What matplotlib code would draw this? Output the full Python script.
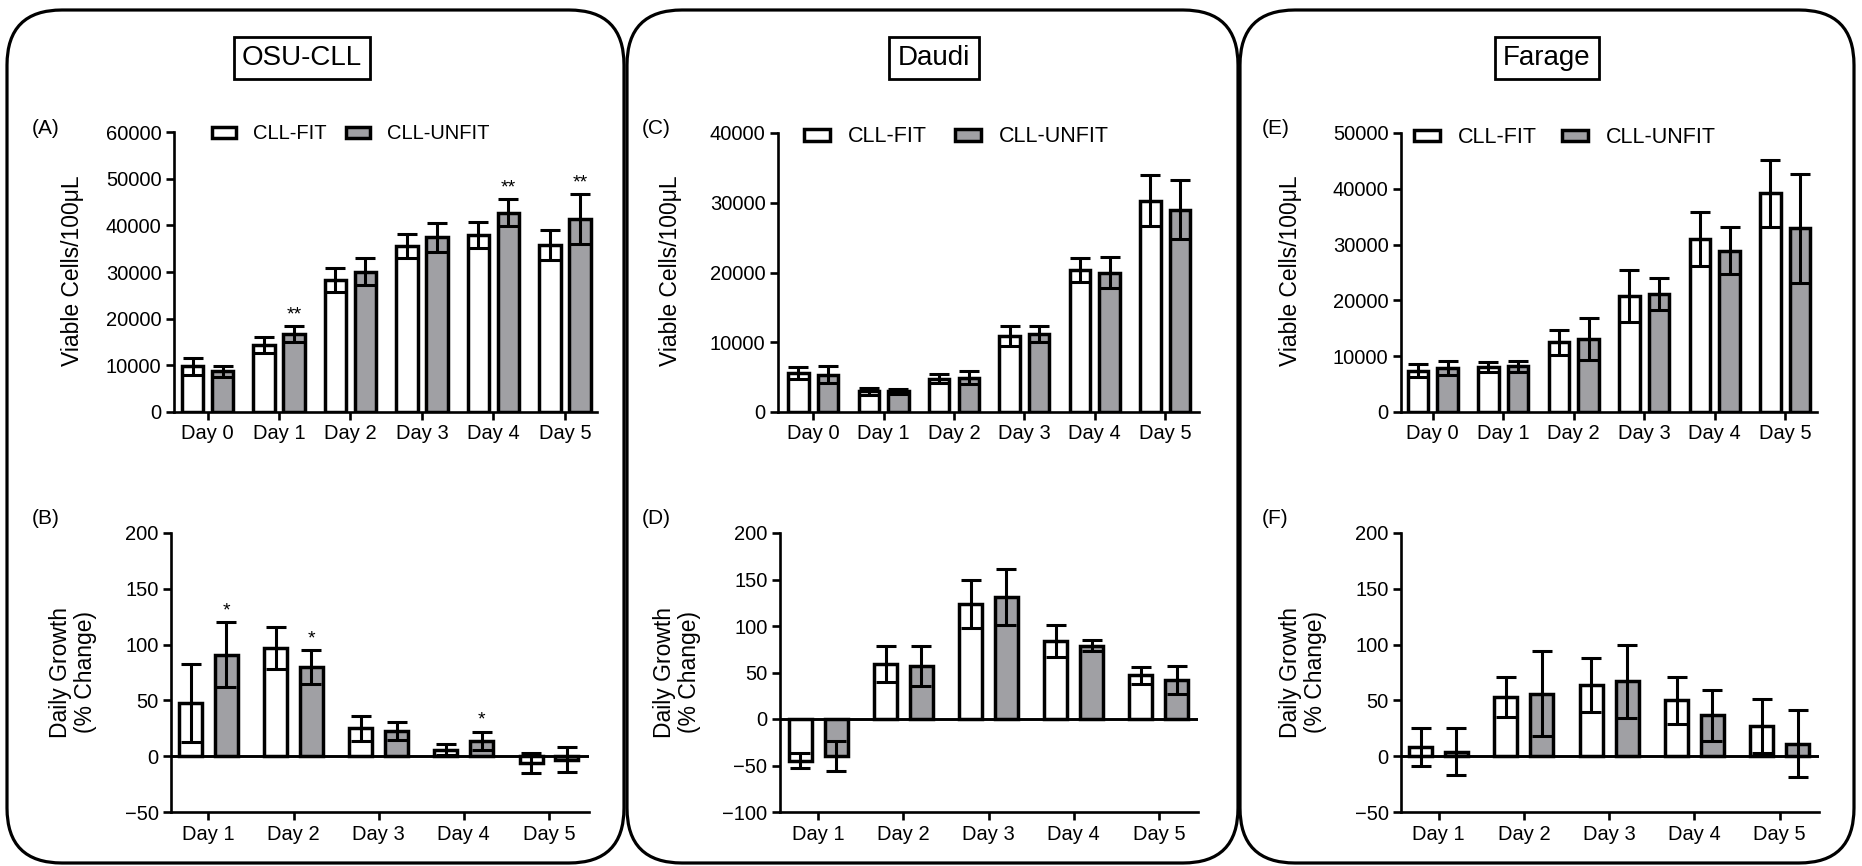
import numpy as np
import matplotlib.pyplot as plt
from matplotlib.patches import FancyBboxPatch

plt.rcParams['font.family'] = ['Liberation Sans', 'DejaVu Sans']

days_top = ['Day 0', 'Day 1', 'Day 2', 'Day 3', 'Day 4', 'Day 5']
days_bot = ['Day 1', 'Day 2', 'Day 3', 'Day 4', 'Day 5']
series = ['CLL-FIT', 'CLL-UNFIT']

# (A) OSU-CLL viable cells
osu_fit = [9800, 14300, 28300, 35600, 38000, 35800]
osu_fit_err = [1800, 1700, 2500, 2500, 2800, 3200]
osu_unfit = [8700, 16700, 30100, 37400, 42700, 41400]
osu_unfit_err = [1100, 1700, 2800, 3200, 2900, 5300]
osu_sig = ['', '**', '', '', '**', '**']

# (B) OSU-CLL daily growth
osu_g_fit = [48, 97, 25, 6, -6]
osu_g_fit_err = [35, 19, 11, 5, 9]
osu_g_unfit = [91, 80, 22.5, 14, -3]
osu_g_unfit_err = [29, 15, 8, 8, 11]
osu_g_sig = ['*', '*', '', '*', '']

# (C) Daudi viable cells
daudi_fit = [5650, 3000, 4800, 10900, 20400, 30300]
daudi_fit_err = [850, 500, 600, 1400, 1700, 3700]
daudi_unfit = [5370, 3000, 4900, 11200, 20000, 29000]
daudi_unfit_err = [1250, 350, 950, 1200, 2200, 4200]

# (D) Daudi daily growth
daudi_g_fit = [-45, 59, 124, 84, 47]
daudi_g_fit_err = [8, 19, 26, 17, 9]
daudi_g_unfit = [-40, 57, 131, 79, 42]
daudi_g_unfit_err = [16, 22, 30, 6, 15]

# (E) Farage viable cells
farage_fit = [7400, 8000, 12500, 20800, 31000, 39200]
farage_fit_err = [1200, 900, 2200, 4600, 4900, 6000]
farage_unfit = [7900, 8200, 13100, 21100, 28900, 32900]
farage_unfit_err = [1300, 1000, 3700, 2900, 4200, 9800]

# (F) Farage daily growth
farage_g_fit = [8, 53, 64, 50, 27]
farage_g_fit_err = [17, 18, 24, 21, 24]
farage_g_unfit = [4, 56, 67, 36.5, 11]
farage_g_unfit_err = [21, 38, 33, 23, 30]

GREY = '#a0a0a4'
W, H = 1862, 866
fig = plt.figure(figsize=(W / 100, H / 100), dpi=100)

# background layer in pixel coordinates for frames and labels
bg = fig.add_axes([0, 0, 1, 1])
bg.set_xlim(0, W)
bg.set_ylim(H, 0)
bg.axis('off')

for x0, x1 in [(7, 624), (627, 1238), (1240, 1854)]:
    bg.add_patch(FancyBboxPatch((x0, 10), x1 - x0, 853,
                                boxstyle='round,pad=0,rounding_size=55',
                                fc='none', ec='black', lw=2.3))


def px_axes(x0, y0, x1, y1):
    ax = fig.add_axes([x0 / W, 1 - y1 / H, (x1 - x0) / W, (y1 - y0) / H])
    ax.patch.set_alpha(0)
    return ax


def bars(ax, labels, fit, fit_err, unfit, unfit_err, width, sig=None):
    x = np.arange(len(labels))
    ekw = dict(ecolor='black', elinewidth=2.2, capsize=7, capthick=2.2, zorder=5)
    ax.bar(x - 0.21, fit, width, yerr=fit_err, color='white', edgecolor='black',
           linewidth=2.5, error_kw=ekw, label=series[0], zorder=3)
    ax.bar(x + 0.21, unfit, width, yerr=unfit_err, color=GREY, edgecolor='black',
           linewidth=2.5, error_kw=ekw, label=series[1], zorder=3)
    if sig:
        for i, s in enumerate(sig):
            if s:
                ax.annotate(s, (x[i] + 0.21, unfit[i] + unfit_err[i]), xytext=(0, 5),
                            textcoords='offset points', ha='center', va='baseline',
                            fontsize=14)
    ax.set_xticks(x)
    ax.set_xticklabels(labels)


def style(ax, xlim, ylim, yticks):
    ax.set_xlim(xlim)
    ax.set_ylim(ylim)
    ax.set_yticks(yticks)
    for s in ['top', 'right']:
        ax.spines[s].set_visible(False)
    for s in ['left', 'bottom']:
        ax.spines[s].set_linewidth(1.9)
    ax.tick_params(width=1.9, length=6, labelsize=14.5, pad=3)


def legend(ax, x, y, fs, colsp):
    ax.legend(loc='center left', bbox_to_anchor=(x, y), ncol=2, frameon=False,
              fontsize=fs, handlelength=1.2, handleheight=0.45, handletextpad=0.85,
              columnspacing=colsp, borderpad=0, borderaxespad=0)


# top row
axA = px_axes(174, 132, 597, 412)
bars(axA, days_top, osu_fit, osu_fit_err, osu_unfit, osu_unfit_err, 0.3, osu_sig)
style(axA, (-0.47, 5.45), (0, 60000), np.arange(0, 60001, 10000))
legend(axA, 0.09, 0.993, 14.5, 0.95)

axC = px_axes(778, 133, 1199, 412)
bars(axC, days_top, daudi_fit, daudi_fit_err, daudi_unfit, daudi_unfit_err, 0.29)
style(axC, (-0.5, 5.48), (0, 40000), np.arange(0, 40001, 10000))
legend(axC, 0.062, 0.986, 15.5, 1.3)

axE = px_axes(1401, 133, 1817, 412)
bars(axE, days_top, farage_fit, farage_fit_err, farage_unfit, farage_unfit_err, 0.29)
style(axE, (-0.45, 5.45), (0, 50000), np.arange(0, 50001, 10000))
legend(axE, 0.031, 0.983, 15.5, 1.15)

# bottom row
axB = px_axes(171, 533, 589, 812)
bars(axB, days_bot, osu_g_fit, osu_g_fit_err, osu_g_unfit, osu_g_unfit_err, 0.27, osu_g_sig)
style(axB, (-0.44, 4.47), (-50, 200), np.arange(-50, 201, 50))

axD = px_axes(780, 533, 1198, 812)
bars(axD, days_bot, daudi_g_fit, daudi_g_fit_err, daudi_g_unfit, daudi_g_unfit_err, 0.27)
style(axD, (-0.45, 4.46), (-100, 200), np.arange(-100, 201, 50))

axF = px_axes(1401, 533, 1819, 812)
bars(axF, days_bot, farage_g_fit, farage_g_fit_err, farage_g_unfit, farage_g_unfit_err, 0.27)
style(axF, (-0.44, 4.46), (-50, 200), np.arange(-50, 201, 50))

for ax in [axB, axD, axF]:
    ax.axhline(0, color='black', lw=2.1, zorder=4)

# titles, panel letters and axis labels
for x, t in [(302, 'OSU-CLL'), (934, 'Daudi'), (1547, 'Farage')]:
    bg.text(x, 58, t, ha='center', va='center', fontsize=20,
            bbox=dict(boxstyle='square,pad=0.3', fc='white', ec='black', lw=2))

for x, y, t in [(32, 128, '(A)'), (32, 518, '(B)'), (642, 128, '(C)'),
                (642, 518, '(D)'), (1262, 128, '(E)'), (1262, 518, '(F)')]:
    bg.text(x, y, t, ha='left', va='center', fontsize=15)

for x in [73, 671, 1291]:
    bg.text(x, 271, 'Viable Cells/100μL', rotation=90, ha='center', va='center', fontsize=16.5)
for x in [73, 677, 1303]:
    bg.text(x, 672, 'Daily Growth\n(% Change)', rotation=90, ha='center', va='center',
            fontsize=16.5, linespacing=1.1)

fig.savefig('out.png', dpi=100)
